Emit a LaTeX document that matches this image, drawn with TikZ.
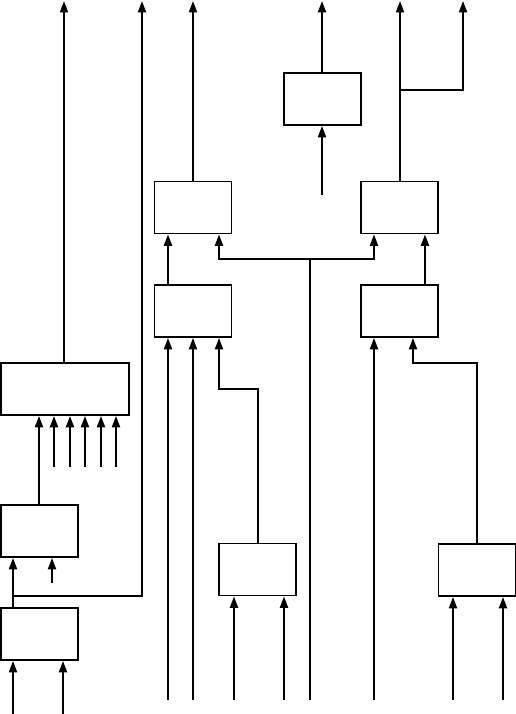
\documentclass[tikz,border=0pt]{standalone}
\usetikzlibrary{arrows.meta,positioning,calc}
\tikzset{
  caja/.style={draw,line width=1.1pt,minimum width=1.54cm,minimum height=1.04cm,inner sep=0pt},
  cajaancha/.style={caja,minimum width=2.56cm},
  flecha/.style={-{Triangle[length=6.5pt,width=4.6pt]},line width=1.1pt},
  linea/.style={line width=1.1pt},
}
\begin{document}
\begin{tikzpicture}[x=0.2mm,y=-0.2mm]
\useasboundingbox (0,0) rectangle (516,714);

% ---------------- cajas ----------------
\node[caja]      (a) at (39.5,634)   {};
\node[caja]      (b) at (39.5,531)   {};
\node[cajaancha] (c) at (65,389)     {};
\node[caja]      (d) at (322.5,99)   {};
\node[caja]      (e) at (193,207.5)  {};
\node[caja]      (f) at (399.5,207.5) {};
\node[caja]      (g) at (193,311)    {};
\node[caja]      (h) at (399.5,311)  {};
\node[caja]      (i) at (257.5,569.5) {};
\node[caja]      (j) at (477,570)    {};

% ---------------- columna izquierda ----------------
\draw[flecha] (13,714) -- (13,0 |- a.south);
\draw[flecha] (63,714) -- (63,0 |- a.south);
\draw[flecha] (13,0 |- a.north) -- (13,0 |- b.south);
\coordinate (ramaa) at (13,596);
\draw[flecha] (ramaa) -- (142,596) -- (142,1);
\draw[flecha] (52,583) -- (52,0 |- b.south);
\draw[flecha] (39,0 |- b.north) -- (39,0 |- c.south);
\foreach \x in {54,70,85,101,116}
  \draw[flecha] (\x,467) -- (\x,0 |- c.south);
\draw[flecha] (64,0 |- c.north) -- (64,1);

% ---------------- columna central ----------------
\foreach \x in {168,193}
  \draw[flecha] (\x,700) -- (\x,0 |- g.south);
\draw[flecha] (258,0 |- i.north) -- (258,389) -- (219,389) -- (219,0 |- g.south);
\foreach \x in {234,284}
  \draw[flecha] (\x,700) -- (\x,0 |- i.south);
\draw[flecha] (168,0 |- g.north) -- (168,0 |- e.south);
\draw[flecha] (193,0 |- e.north) -- (193,1);

\coordinate (bus) at (310,259);
\draw[linea] (310,700) -- (bus);
\draw[flecha] (bus) -- (219,259) -- (219,0 |- e.south);
\draw[flecha] (bus) -- (374,259) -- (374,0 |- f.south);

\draw[flecha] (322,195) -- (322,0 |- d.south);
\draw[flecha] (322,0 |- d.north) -- (322,1);

% ---------------- columna derecha ----------------
\draw[flecha] (400,0 |- f.north) -- (400,1);
\coordinate (ramaf) at (400,90);
\draw[flecha] (ramaf) -- (463,90) -- (463,1);
\draw[flecha] (425,0 |- h.north) -- (425,0 |- f.south);
\draw[flecha] (374,700) -- (374,0 |- h.south);
\draw[flecha] (477,0 |- j.north) -- (477,363) -- (413,363) -- (413,0 |- h.south);
\foreach \x in {453,503}
  \draw[flecha] (\x,700) -- (\x,0 |- j.south);

\end{tikzpicture}
\end{document}
